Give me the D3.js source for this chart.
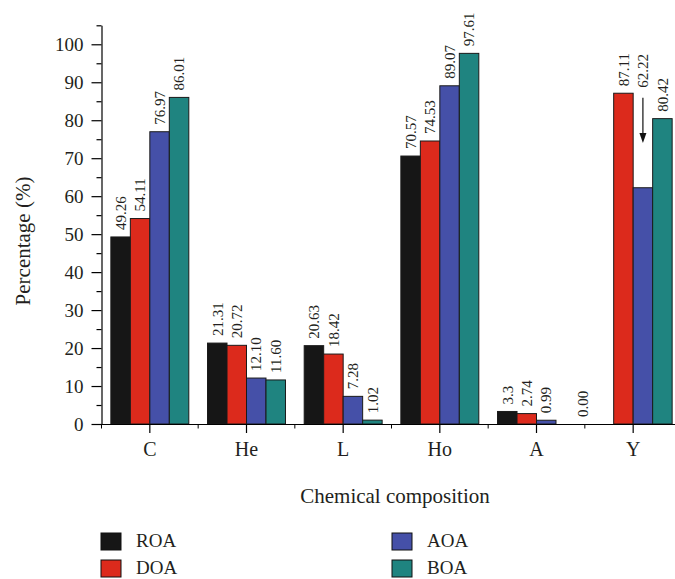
<!DOCTYPE html>
<html>
<head>
<meta charset="utf-8">
<script src="https://cdn.jsdelivr.net/npm/d3@7"></script>
<style>
  body { margin: 0; background: #fff; }
  text { font-family: "Liberation Serif", "Times New Roman", serif; fill: #231f20; }
</style>
</head>
<body>
<div id="chart"></div>
<script>
// data
var categories = ["C", "He", "L", "Ho", "A", "Y"];
var series = ["ROA", "DOA", "AOA", "BOA"];
var roa = [49.26, 21.31, 20.63, 70.57, 3.3, 0];
var doa = [54.11, 20.72, 18.42, 74.53, 2.74, 87.11];
var aoa = [76.97, 12.10, 7.28, 89.07, 0.99, 62.22];
var boa = [86.01, 11.60, 1.02, 97.61, null, 80.42];
var roaLabels = ["49.26", "21.31", "20.63", "70.57", "3.3", "0.00"];
var doaLabels = ["54.11", "20.72", "18.42", "74.53", "2.74", "87.11"];
var aoaLabels = ["76.97", "12.10", "7.28", "89.07", "0.99", "62.22"];
var boaLabels = ["86.01", "11.60", "1.02", "97.61", null, "80.42"];
var colors = ["#161616", "#dc2a1c", "#4550a8", "#1f8480"];
var yTicks = [0, 10, 20, 30, 40, 50, 60, 70, 80, 90, 100];
var yMinorTicks = [5, 15, 25, 35, 45, 55, 65, 75, 85, 95, 105];
// arrow over the AOA bar of Y (value units: from, to)
var arrowCat = "Y", arrowSeries = "AOA", arrowFrom = 85.9, arrowTo = 74.0;

var values = [roa, doa, aoa, boa];
var labels = [roaLabels, doaLabels, aoaLabels, boaLabels];

var width = 675, height = 579;

var svg = d3.select("#chart").append("svg")
  .attr("width", width)
  .attr("height", height);

var y = d3.scaleLinear()
  .domain([0, 105])
  .range([424, 25.3]);

var x = d3.scaleBand()
  .domain(categories)
  .range([101.5, 681.5])
  .padding(0);

var x1 = d3.scaleBand()
  .domain(series)
  .range([0, x.bandwidth()])
  .paddingInner(0)
  .paddingOuter(0.48);

// bars
var rows = [];
categories.forEach(function(c, i) {
  series.forEach(function(s, j) {
    rows.push({cat: c, s: s, v: values[j][i], label: labels[j][i], color: colors[j]});
  });
});

svg.append("g").selectAll("rect")
  .data(rows.filter(function(d) { return d.v; }))
  .enter().append("rect")
  .attr("x", function(d) { return x(d.cat) + x1(d.s); })
  .attr("y", function(d) { return y(d.v); })
  .attr("width", x1.bandwidth())
  .attr("height", function(d) { return y(0) - y(d.v); })
  .attr("fill", function(d) { return d.color; })
  .attr("stroke", "#1a1a1a")
  .attr("stroke-width", 1);

// value labels
svg.append("g").selectAll("text")
  .data(rows.filter(function(d) { return d.label !== null; }))
  .enter().append("text")
  .attr("transform", function(d) {
    var cx = x(d.cat) + x1(d.s) + x1.bandwidth() / 2;
    var top = y(d.v);
    if (d.v === 0) cx = x(d.cat) - 2;
    if (d.cat === arrowCat && d.s === arrowSeries) top = y(arrowFrom) - 3;
    return "translate(" + cx + "," + (top - 7) + ") rotate(-90)";
  })
  .attr("dy", "0.35em")
  .attr("text-anchor", "start")
  .style("font-size", "15px")
  .text(function(d) { return d.label; });

// arrow
var ax = x(arrowCat) + x1(arrowSeries) + x1.bandwidth() / 2;
svg.append("line")
  .attr("x1", ax).attr("x2", ax)
  .attr("y1", y(arrowFrom)).attr("y2", y(arrowTo) - 8)
  .attr("stroke", "#111").attr("stroke-width", 1.2);
svg.append("path")
  .attr("d", "M" + (ax - 3.5) + "," + (y(arrowTo) - 10) + "L" + (ax + 3.5) + "," + (y(arrowTo) - 10) + "L" + ax + "," + y(arrowTo) + "Z")
  .attr("fill", "#111");

// y axis
var yAxis = svg.append("g")
  .attr("transform", "translate(" + x.range()[0] + ",0)")
  .call(d3.axisLeft(y).tickValues(yTicks).tickSize(10).tickSizeOuter(0).tickPadding(8));
svg.append("g")
  .attr("transform", "translate(" + x.range()[0] + ",0)")
  .call(d3.axisLeft(y).tickValues(yMinorTicks).tickSize(5).tickFormat(""))
  .select(".domain").remove();
yAxis.selectAll("text").style("font-size", "19px").style("font-family", "Liberation Serif");

// x axis
var xAxis = svg.append("g")
  .attr("transform", "translate(0," + y(0) + ")")
  .call(d3.axisBottom(x).tickSize(9).tickSizeOuter(0).tickPadding(9));
xAxis.selectAll("text").style("font-size", "20px").style("font-family", "Liberation Serif");
svg.append("g")
  .attr("transform", "translate(0," + y(0) + ")")
  .selectAll("line")
  .data(categories.map(function(c) { return x(c); }).concat([x.range()[1]]))
  .enter().append("line")
  .attr("x1", function(d) { return d; }).attr("x2", function(d) { return d; })
  .attr("y1", 0).attr("y2", 4.5)
  .attr("stroke", "#000");

svg.selectAll(".domain, .tick line").attr("stroke", "#000").attr("stroke-width", 1.2);

// axis titles
svg.append("text")
  .attr("transform", "translate(23,241) rotate(-90)")
  .attr("dy", "0.35em")
  .attr("text-anchor", "middle")
  .style("font-size", "21px")
  .text("Percentage (%)");

svg.append("text")
  .attr("x", 395)
  .attr("y", 502.5)
  .attr("text-anchor", "middle")
  .style("font-size", "21px")
  .text("Chemical composition");

// legend
var legendPos = [[101, 533], [101, 560], [392, 533], [392, 560]];
var legend = svg.append("g").selectAll("g")
  .data(series)
  .enter().append("g")
  .attr("transform", function(d, i) { return "translate(" + legendPos[i][0] + "," + legendPos[i][1] + ")"; });
legend.append("rect")
  .attr("width", 20).attr("height", 17)
  .attr("fill", function(d, i) { return colors[i]; })
  .attr("stroke", "#111").attr("stroke-width", 1);
legend.append("text")
  .attr("x", 35).attr("y", 14)
  .style("font-size", "19px")
  .text(function(d) { return d; });
</script>
</body>
</html>
